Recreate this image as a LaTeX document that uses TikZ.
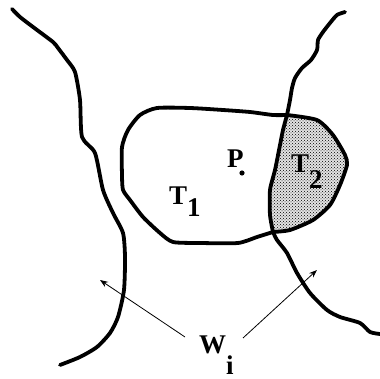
\documentclass[tikz,border=0pt]{standalone}
\usepackage{fontspec}
\setmainfont{Liberation Serif}
\usetikzlibrary{arrows.meta, patterns}
\tikzset{
  wall/.style={line width=3.8pt, line cap=round, line join=round},
  region/.style={line width=3.8pt, line join=round},
  pointer/.style={line width=0.8pt, -{Stealth[length=8pt, width=6pt]}},
  lbl/.style={font=\bfseries\fontsize{27}{30}\selectfont, inner sep=0pt, anchor=base west}
}
\newcommand{\lowsub}[2]{\raisebox{-#1}{#2}}
\begin{document}
\begin{tikzpicture}[x=1pt, y=-1pt]
  \useasboundingbox (0,0) rectangle (380,379);
  % shaded part T2
  \fill[gray!22] (287,115) -- (317,120) -- (333,135) -- (345,155) -- (347,165) -- (340,185)
    -- (330,205) -- (313,220) -- (290,230) -- (273,232) -- (270,215) -- (270,190) -- (275,170)
    -- (280,145) -- (283,130) -- cycle;
  \fill[pattern=crosshatch dots, pattern color=black] (287,115) -- (317,120) -- (333,135)
    -- (345,155) -- (347,165) -- (340,185) -- (330,205) -- (313,220) -- (290,230) -- (273,232)
    -- (270,215) -- (270,190) -- (275,170) -- (280,145) -- (283,130) -- cycle;
  % outline of T1 and T2
  \draw[region] plot[smooth, tension=0.4] coordinates {(287,115) (273,115) (250,112) (223,110)
    (190,108) (157,108) (140,115) (128,130) (122,147) (122,175) (123,190) (130,200) (143,217)
    (160,233) (173,242) (200,243) (238,243) (257,237) (273,232)};
  \draw[region] plot[smooth, tension=0.4] coordinates {(287,115) (317,120) (333,135) (345,155)
    (347,165) (340,185) (330,205) (313,220) (290,230) (273,232)};
  \draw[region] plot[smooth, tension=0.4] coordinates {(287,115) (283,130) (280,145) (275,170)
    (270,190) (270,215) (273,232)};
  % the two walls
  \draw[wall] plot[smooth, tension=0.4] coordinates {(12,9) (20,17) (33,27) (53,42) (58,48)
    (67,60) (75,72) (80,100) (82,137) (95,153) (103,190) (113,213) (123,233) (125,257)
    (124,290) (118,317) (110,333) (97,347) (80,357) (60,365)};
  \draw[wall] plot[smooth, tension=0.4] coordinates {(345,12) (337,15) (330,23) (323,32)
    (318,40) (317,50) (311,60) (302,68) (295,78) (292,88) (290,100) (287,115)};
  \draw[wall] plot[smooth, tension=0.4] coordinates {(273,232) (277,240) (287,253) (297,273)
    (310,293) (327,310) (340,317) (360,323) (370,332) (380,334)};
  % labels
  \node[lbl] (t1) at (169,205) {T\lowsub{12pt}{1}};
  \node[lbl] (t2) at (291,173) {T\lowsub{16pt}{2}};
  \node[lbl] (p) at (227,168) {P};
  \fill (242,173) circle (2.6);
  \node[lbl] (wi) at (199,353) {W\lowsub{21pt}{i}};
  \coordinate (leftend) at (100,280);
  \coordinate (rightend) at (317,270);
  \draw[pointer] (wi.base west) ++(-14,-16) coordinate (lefttail) -- (leftend);
  \draw[pointer] (wi.base west) ++(44,-15) coordinate (righttail) -- (rightend);
\end{tikzpicture}
\end{document}
